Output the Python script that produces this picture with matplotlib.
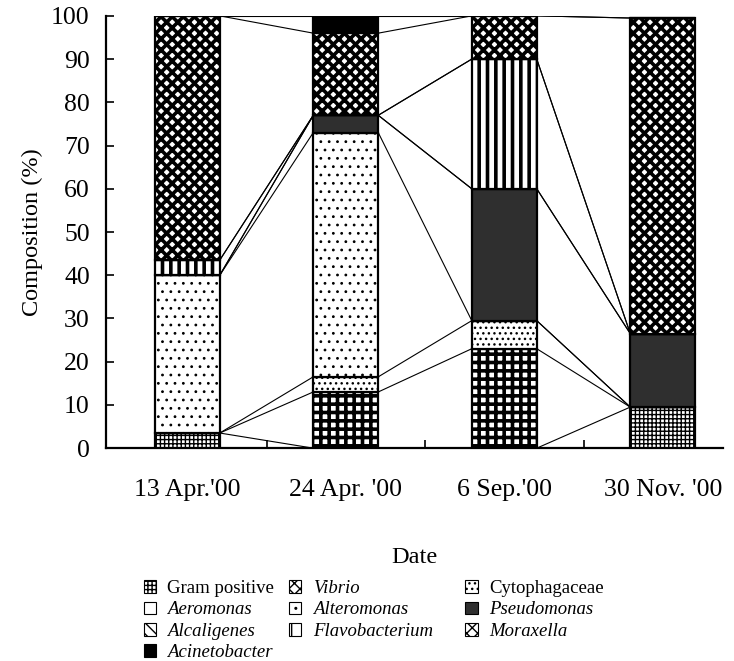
import matplotlib
matplotlib.use("Agg")
import matplotlib.pyplot as plt
from matplotlib.patches import Patch
import numpy as np

plt.rcParams['font.family'] = ['Liberation Serif', 'DejaVu Serif']

dates = ["13 Apr.'00", "24 Apr. '00", "6 Sep.'00", "30 Nov. '00"]

# stacking order bottom -> top
gram_positive  = [3.5, 0.0, 0.0, 9.5]
aeromonas      = [0.0, 13.0, 23.0, 0.0]
cytophagaceae  = [0.0, 3.5, 6.5, 0.0]
alteromonas    = [36.5, 56.5, 0.0, 0.0]
pseudomonas    = [0.0, 4.0, 30.5, 17.0]
alcaligenes    = [0.0, 0.0, 0.0, 0.0]
flavobacterium = [3.5, 0.0, 30.0, 0.0]
vibrio         = [0.0, 0.0, 0.0, 0.0]
moraxella      = [56.5, 19.0, 10.0, 73.0]
acinetobacter  = [0.0, 4.0, 0.0, 0.0]

series = [
    ("Gram positive", gram_positive),
    ("Aeromonas", aeromonas),
    ("Cytophagaceae", cytophagaceae),
    ("Alteromonas", alteromonas),
    ("Pseudomonas", pseudomonas),
    ("Alcaligenes", alcaligenes),
    ("Flavobacterium", flavobacterium),
    ("Vibrio", vibrio),
    ("Moraxella", moraxella),
    ("Acinetobacter", acinetobacter),
]

styles = {
    "Gram positive": dict(facecolor="white", hatch="++++", hlw=1.0),
    "Aeromonas": dict(facecolor="white", hatch="++", hlw=2.6),
    "Cytophagaceae": dict(facecolor="white", hatch="...", hlw=1.0),
    "Alteromonas": dict(facecolor="white", hatch="..", hlw=0.8),
    "Pseudomonas": dict(facecolor="#2f2f2f", hatch="", hlw=1.0),
    "Alcaligenes": dict(facecolor="white", hatch="\\\\\\", hlw=1.0),
    "Flavobacterium": dict(facecolor="white", hatch="||", hlw=2.6),
    "Vibrio": dict(facecolor="white", hatch="xxx", hlw=2.6),
    "Moraxella": dict(facecolor="white", hatch="xxx", hlw=2.6),
    "Acinetobacter": dict(facecolor="black", hatch="", hlw=1.0),
}

fig = plt.figure(figsize=(7.34, 6.61), dpi=100)
ax = fig.add_axes([0.145, 0.322, 0.84, 0.654])

x = np.arange(len(dates))
width = 0.41
bottom = np.zeros(len(dates))
tops = []
for name, vals in series:
    st = styles[name]
    vals = np.array(vals, dtype=float)
    with plt.rc_context({'hatch.linewidth': st['hlw']}):
        bars = ax.bar(x, vals, width, bottom=bottom, facecolor=st['facecolor'],
                      edgecolor="black", hatch=st['hatch'] or None, linewidth=1.6, zorder=3)
        for b in bars:
            if hasattr(b, "set_hatch_linewidth"):
                b.set_hatch_linewidth(st['hlw'])
    bottom = bottom + vals
    tops.append(bottom.copy())

# connecting lines between adjacent bars
for cum in tops:
    for i in range(len(dates) - 1):
        ax.plot([x[i] + width / 2, x[i + 1] - width / 2], [cum[i], cum[i + 1]],
                color="black", lw=0.8, zorder=2)

ax.set_xlim(-0.51, 3.38)
ax.set_ylim(0, 100)
ax.set_yticks(np.arange(0, 101, 10))
ax.set_xticks(x)
ax.set_xticklabels(dates)
ax.set_xticks([0.5, 1.5, 2.5], minor=True)
ax.tick_params(axis='x', which='major', length=0, pad=22, labelsize=18.5)
ax.tick_params(axis='x', which='minor', direction='in', length=6, width=1.2)
ax.tick_params(axis='y', direction='in', length=6, width=1.2, labelsize=18.5, pad=12)
for s in ['top', 'right']:
    ax.spines[s].set_visible(False)
for s in ['left', 'bottom']:
    ax.spines[s].set_linewidth(1.6)

ax.set_ylabel("Composition (%)", fontsize=17.5, labelpad=6)
ax.set_xlabel("Date", fontsize=17.5, labelpad=33)

# legend: three columns, each placed separately
legend_cols = [
    ["Gram positive", "Aeromonas", "Alcaligenes", "Acinetobacter"],
    ["Vibrio", "Alteromonas", "Flavobacterium"],
    ["Cytophagaceae", "Pseudomonas", "Moraxella"],
]
col_x = [0.196, 0.394, 0.634]
legend_handle_style = dict(styles)
legend_handle_style["Aeromonas"] = dict(facecolor="white", hatch="", hlw=1.0)
legend_handle_style["Flavobacterium"] = dict(facecolor="white", hatch="|", hlw=3.0)

for cx, names in zip(col_x, legend_cols):
    handles = []
    for name in names:
        st = legend_handle_style[name]
        with plt.rc_context({'hatch.linewidth': min(st['hlw'], 1.6)}):
            p = Patch(facecolor=st['facecolor'], edgecolor="black",
                      hatch=st['hatch'] or None, linewidth=0.8)
        if hasattr(p, "set_hatch_linewidth"):
            p.set_hatch_linewidth(min(st['hlw'], 1.6))
        handles.append(p)
    leg = fig.legend(handles, names, loc='upper left',
                     bbox_to_anchor=(cx, 0.1225), frameon=False,
                     fontsize=13.5, handlelength=0.65, handleheight=0.65,
                     handletextpad=0.6, labelspacing=0.235,
                     borderaxespad=0, borderpad=0)
    for t in leg.get_texts():
        if t.get_text() not in ("Gram positive", "Cytophagaceae"):
            t.set_fontstyle('italic')

fig.savefig("out.png", dpi=100)
